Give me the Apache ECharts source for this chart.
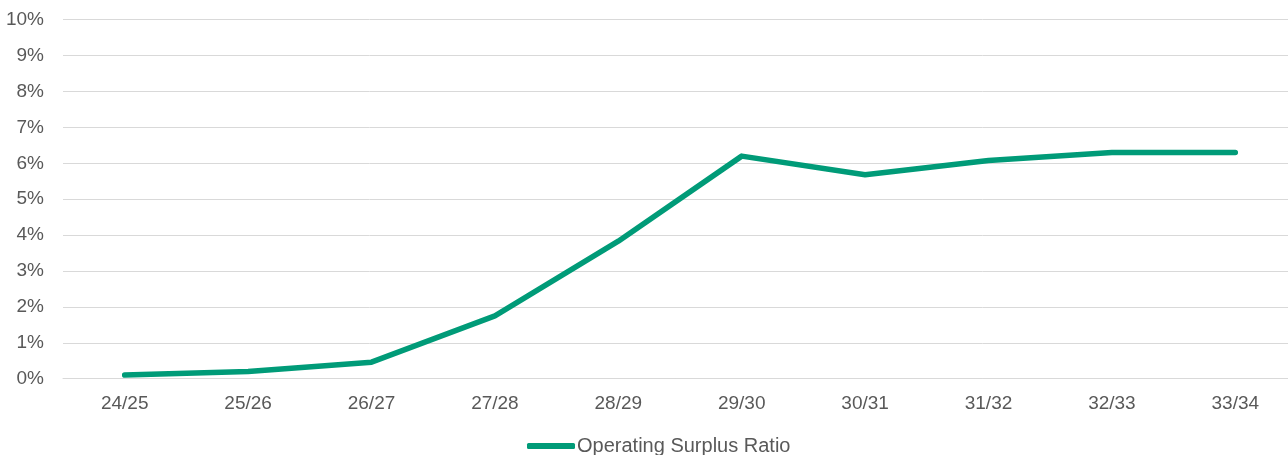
<!DOCTYPE html>
<html>
<head>
<meta charset="utf-8">
<script src="https://cdn.jsdelivr.net/npm/echarts@6/dist/echarts.min.js"></script>
<style>
  html, body { margin: 0; padding: 0; background: #ffffff; }
  #chart { width: 1288px; height: 455px; }
</style>
</head>
<body>
<div id="chart"></div>
<script>
// Financial years along the x axis
const years = ['24/25', '25/26', '26/27', '27/28', '28/29', '29/30', '30/31', '31/32', '32/33', '33/34'];
// Operating surplus ratio, in percent
const surplusRatio = [0.1, 0.2, 0.46, 1.75, 3.83, 6.2, 5.68, 6.08, 6.3, 6.3];
const seriesName = 'Operating Surplus Ratio';

const textColor = '#595959';
const gridColor = '#d9d9d9';
const lineColor = '#009B78';
const fontFamily = 'Liberation Sans, Arial, sans-serif';
const fontSize = 19;

const chart = echarts.init(document.getElementById('chart'), null, { renderer: 'canvas' });
chart.setOption({
  animation: false,
  backgroundColor: '#ffffff',
  grid: {
    left: 63, right: -9, top: 19.7, bottom: 76.3,
    containLabel: false,
    outerBoundsMode: 'none'
  },
  legend: {
    data: [{ name: seriesName, icon: 'roundRect' }],
    left: 527,
    top: 436,
    padding: 0,
    itemWidth: 48,
    itemHeight: 6,
    textStyle: { color: textColor, fontFamily: fontFamily, fontSize: 20, padding: [0, 0, 0, -3] }
  },
  xAxis: {
    type: 'category',
    data: years,
    boundaryGap: true,
    axisLine: { show: true, lineStyle: { color: gridColor, width: 1 } },
    axisTick: { show: false },
    axisLabel: { color: textColor, fontFamily: fontFamily, fontSize: fontSize, margin: 16 }
  },
  yAxis: {
    type: 'value',
    min: 0,
    max: 10,
    interval: 1,
    axisLine: { show: false },
    axisTick: { show: false },
    splitLine: { lineStyle: { color: gridColor, width: 1 } },
    axisLabel: { color: textColor, fontFamily: fontFamily, fontSize: fontSize, margin: 19, formatter: '{value}%' }
  },
  series: [{
    name: seriesName,
    type: 'line',
    data: surplusRatio,
    showSymbol: false,
    symbol: 'none',
    itemStyle: { color: lineColor },
    lineStyle: { color: lineColor, width: 5.5, cap: 'round', join: 'round' }
  }]
});
</script>
</body>
</html>
